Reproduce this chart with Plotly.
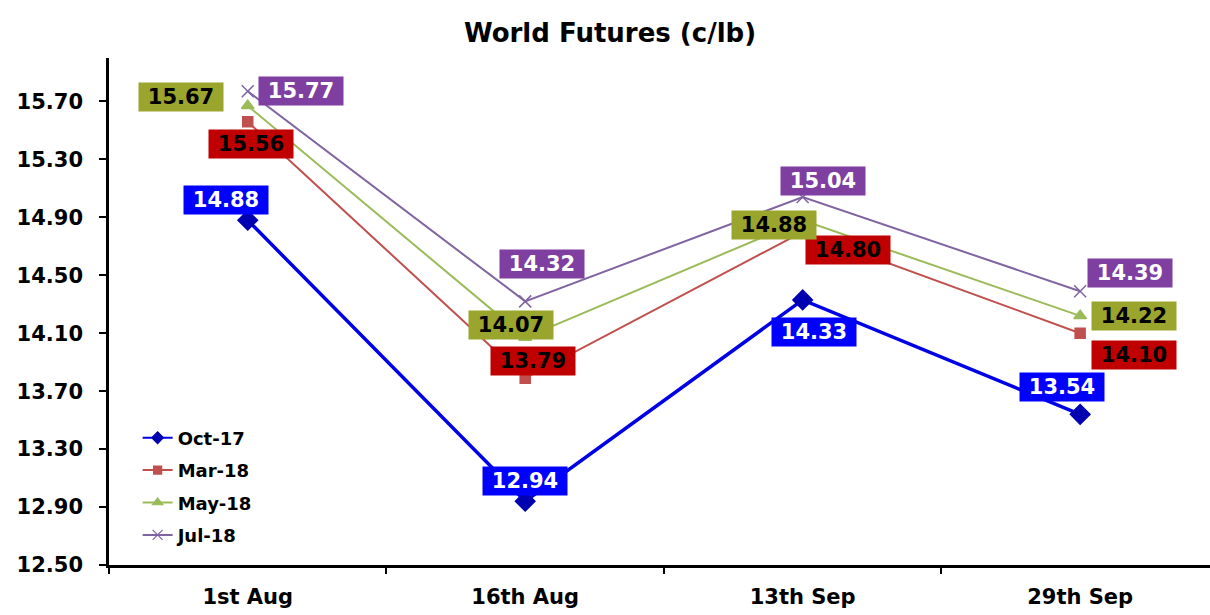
import plotly.graph_objects as go

# Price dates and contract series (c/lb)
dates = ["1st Aug", "16th Aug", "13th Sep", "29th Sep"]
oct17 = [14.88, 12.94, 14.33, 13.54]
mar18 = [15.56, 13.79, 14.80, 14.10]
may18 = [15.67, 14.07, 14.88, 14.22]
jul18 = [15.77, 14.32, 15.04, 14.39]
series_names = ["Oct-17", "Mar-18", "May-18", "Jul-18"]
y_ticks = [12.50, 12.90, 13.30, 13.70, 14.10, 14.50, 14.90, 15.30, 15.70]

FONT = "DejaVu Sans"

# Visual style per series: line, marker, label box colours and label offsets (px)
styles = {
    "Oct-17": dict(line="#0000E6", width=3.5, marker="#0000B0", symbol="diamond", msize=15,
                   lsize=9, lwidth=2, box="#0000FF", txt="white",
                   off=[(-22, -20), (0, -20), (11, 32), (-18, -27)]),
    "Mar-18": dict(line="#C0504D", width=2, marker="#C0504D", symbol="square", msize=10,
                   lsize=8, lwidth=2, box="#C00000", txt="black",
                   off=[(3, 22), (8, -17), (45, 18), (54, 22)]),
    "May-18": dict(line="#9BBB59", width=2, marker="#9BBB59", symbol="triangle-up", msize=11,
                   lsize=9, lwidth=2, box="#9AA52D", txt="black",
                   off=[(-67, -9), (-14, -13), (-29, 5), (54, 0)]),
    "Jul-18": dict(line="#8064A2", width=2, marker="#8064A2", symbol="x-thin", msize=12,
                   lsize=10, lwidth=2, box="#7E3FA1", txt="white",
                   off=[(53, 0), (17, -37), (20, -16), (50, -18)]),
}

values = {"Oct-17": oct17, "Mar-18": mar18, "May-18": may18, "Jul-18": jul18}

fig = go.Figure()
annotations = []
for name in series_names:
    st = styles[name]
    vals = values[name]
    fig.add_trace(go.Scatter(
        x=dates, y=vals, name=name, mode="lines+markers",
        legendgroup=name, showlegend=False,
        line=dict(color=st["line"], width=st["width"]),
        marker=dict(symbol=st["symbol"], size=st["msize"], color=st["marker"],
                    line=dict(color=st["marker"], width=1.5)),
        cliponaxis=False,
    ))
    # legend key with a smaller marker and thinner line
    fig.add_trace(go.Scatter(
        x=[None], y=[None], name=name, mode="lines+markers",
        legendgroup=name, showlegend=True,
        line=dict(color=st["line"], width=st["lwidth"]),
        marker=dict(symbol=st["symbol"], size=st["lsize"], color=st["marker"],
                    line=dict(color=st["marker"], width=1.2)),
    ))
    for d, v, (dx, dy) in zip(dates, vals, st["off"]):
        annotations.append(dict(
            x=d, y=v, xref="x", yref="y", text=f"{v:.2f}", showarrow=False,
            xshift=dx, yshift=-dy, bgcolor=st["box"], width=80, height=24, borderpad=2,
            font=dict(family=FONT, size=21, color=st["txt"], weight="bold"),
        ))

fig.update_layout(
    width=1210, height=615,
    margin=dict(l=109, r=0, t=58, b=50),
    paper_bgcolor="white", plot_bgcolor="white",
    title=dict(text="World Futures (c/lb)", x=610 / 1210, xanchor="center",
               y=1 - 33 / 615, yanchor="middle",
               font=dict(family=FONT, size=26, color="black", weight="bold")),
    annotations=annotations,
    legend=dict(x=0.026, y=0.287, xanchor="left", yanchor="top",
                bgcolor="rgba(0,0,0,0)", tracegroupgap=6,
                font=dict(family=FONT, size=18, color="black", weight="bold")),
    xaxis=dict(type="category", range=[-0.5, 3.468], showgrid=False,
               showline=True, linecolor="black", linewidth=2.5,
               ticks="outside", tickson="boundaries", ticklen=6, tickwidth=2,
               tickcolor="black", ticklabelstandoff=11,
               tickfont=dict(family=FONT, size=21, color="black", weight="bold")),
    yaxis=dict(range=[12.5, 16.0], tickvals=y_ticks, ticktext=[f"{t:.2f}" for t in y_ticks],
               showgrid=False, zeroline=False,
               showline=True, linecolor="black", linewidth=2.5,
               ticks="outside", ticklen=7, tickwidth=2, tickcolor="black",
               ticklabelstandoff=12,
               tickfont=dict(family=FONT, size=21, color="black", weight="bold")),
)

fig.write_html("out.html")
